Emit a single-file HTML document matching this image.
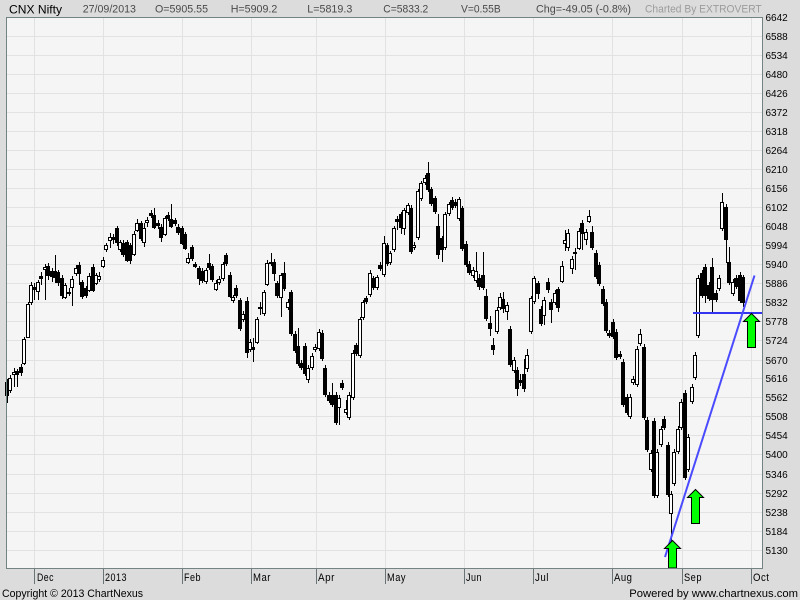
<!DOCTYPE html>
<html><head><meta charset="utf-8"><style>html,body{margin:0;padding:0;background:#dcdcdc}svg{display:block}</style></head>
<body>
<svg xmlns="http://www.w3.org/2000/svg" width="800" height="600" viewBox="0 0 800 600" font-family="'Liberation Sans', Arial, sans-serif">
<rect x="0" y="0" width="800" height="600" fill="#dcdcdc"/>
<rect x="6.5" y="17.5" width="756" height="551" fill="#f5f5f5"/>
<g stroke="#e2e2e2" stroke-width="1" shape-rendering="crispEdges">
<path d="M7 36.5H762M7 55.5H762M7 74.5H762M7 93.5H762M7 112.5H762M7 131.5H762M7 150.5H762M7 169.5H762M7 188.5H762M7 207.5H762M7 226.5H762M7 245.5H762M7 264.5H762M7 283.5H762M7 302.5H762M7 321.5H762M7 340.5H762M7 360.5H762M7 378.5H762M7 397.5H762M7 416.5H762M7 435.5H762M7 454.5H762M7 474.5H762M7 493.5H762M7 512.5H762M7 531.5H762M7 550.5H762"/>
<path d="M34.5 18V568M103.5 18V568M182.5 18V568M251.5 18V568M316.5 18V568M385.5 18V568M464.5 18V568M533.5 18V568M612.5 18V568M682.5 18V568M751.5 18V568"/>
</g>
<g shape-rendering="crispEdges" stroke="#000" stroke-width="1">
<path fill="none" d="M7.5 379V403M10.5 375V393M14.5 368V387M17.5 369V387M21.5 364V376M24.5 337V365M28.5 302V338M31.5 282V305M34.5 283V300M38.5 280V300M41.5 272V285M45.5 264V300M48.5 263V280M52.5 268V282M55.5 255V283M58.5 270V286M62.5 275V299M65.5 283V299M69.5 288V296M72.5 276V306M76.5 265V276M79.5 262V285M82.5 280V299M86.5 286V298M89.5 273V292M93.5 264V292M96.5 273V285M99.5 272V282M103.5 257V268M106.5 243V252M110.5 233V248M113.5 234V244M117.5 226V246M120.5 240V252M123.5 240V257M127.5 240V262M130.5 243V264M134.5 231V256M137.5 219V232M141.5 221V241M144.5 223V247M147.5 217V227M151.5 210V218M154.5 208V229M158.5 220V229M161.5 224V242M165.5 216V236M168.5 212V221M171.5 204V228M175.5 218V226M178.5 224V235M182.5 226V245M185.5 232V250M188.5 253V264M192.5 245V261M195.5 262V268M199.5 266V285M202.5 268V283M206.5 268V284M209.5 254V270M212.5 264V282M216.5 280V291M219.5 276V285M223.5 262V281M226.5 253V266M230.5 272V298M233.5 295V303M236.5 285V298M240.5 298V331M243.5 311V322M247.5 297V358M250.5 339V352M253.5 338V362M257.5 317V344M260.5 302V315M264.5 290V316M267.5 260V286M271.5 253V266M274.5 259V281M277.5 281V298M281.5 273V317M284.5 262V291M288.5 299V310M291.5 290V336M295.5 331V353M298.5 328V366M301.5 360V370M305.5 343V376M308.5 365V383M312.5 353V370M315.5 344V352M319.5 329V351M322.5 330V361M325.5 365V397M329.5 392V403M332.5 383V407M336.5 392V425M339.5 395V425M342.5 380V390M346.5 400V415M349.5 392V420M353.5 350V400M356.5 343V356M360.5 317V358M363.5 300V320M366.5 296V304M370.5 270V297M373.5 276V290M377.5 275V290M380.5 262V271M384.5 236V277M387.5 243V266M390.5 251V265M394.5 226V252M397.5 216V230M401.5 212V234M404.5 208V235M408.5 203V215M411.5 205V254M414.5 242V250M418.5 189V240M421.5 181V201M425.5 175V185M428.5 162V192M431.5 187V206M435.5 196V214M438.5 214V259M442.5 236V262M445.5 212V250M449.5 202V216M452.5 197V210M455.5 199V208M459.5 197V221M462.5 206V251M466.5 241V267M469.5 261V275M473.5 267V278M476.5 252V283M479.5 274V290M483.5 252V290M486.5 289V321M490.5 316V336M493.5 338V355M497.5 307V334M500.5 293V310M503.5 292V313M507.5 302V320M510.5 326V367M514.5 357V373M517.5 367V396M520.5 374V386M524.5 359V392M527.5 349V372M531.5 296V334M534.5 276V304M538.5 281V299M541.5 306V326M544.5 297V325M548.5 278V293M551.5 299V323M555.5 290V305M558.5 287V312M562.5 261V283M565.5 230V251M568.5 229V251M572.5 256V274M575.5 248V270M579.5 228V250M582.5 220V250M586.5 229V245M589.5 210V223M592.5 226V250M596.5 250V279M599.5 262V286M603.5 286V306M606.5 299V333M609.5 330V338M613.5 319V339M616.5 329V360M620.5 351V359M623.5 359V407M627.5 394V415M630.5 394V419M633.5 376V385M637.5 346V387M640.5 329V346M644.5 344V420M647.5 417V452M651.5 450V472M654.5 418V498M657.5 449V498M661.5 426V447M664.5 416V430M668.5 442V497M671.5 491V545M674.5 449V486M678.5 426V454M681.5 399V430M685.5 390V480M688.5 434V472M692.5 384V404M695.5 352V380M698.5 275V338M702.5 270V298M705.5 264V303M709.5 282V301M712.5 258V313M716.5 290V302M719.5 275V291M722.5 193V231M726.5 204V263M729.5 247V285M733.5 279V296M736.5 275V289M740.5 272V303M743.5 275V307"/>
<path fill="#000" d="M5.5 382.5h3v13h-3zM15.5 371.5h3v3h-3zM19.5 367.5h3v5h-3zM32.5 287.5h3v2h-3zM39.5 276.5h3v2h-3zM46.5 266.5h3v9h-3zM50.5 271.5h3v5h-3zM53.5 271.5h3v6h-3zM56.5 272.5h3v10h-3zM60.5 278.5h3v17h-3zM67.5 292.5h3v1h-3zM77.5 265.5h3v8h-3zM80.5 282.5h3v14h-3zM84.5 288.5h3v7h-3zM91.5 267.5h3v23h-3zM111.5 237.5h3v2h-3zM115.5 228.5h3v14h-3zM121.5 243.5h3v11h-3zM125.5 242.5h3v18h-3zM128.5 245.5h3v15h-3zM139.5 223.5h3v15h-3zM149.5 213.5h3v2h-3zM152.5 215.5h3v12h-3zM156.5 223.5h3v2h-3zM159.5 227.5h3v10h-3zM166.5 215.5h3v3h-3zM169.5 219.5h3v7h-3zM173.5 220.5h3v3h-3zM176.5 227.5h3v5h-3zM180.5 228.5h3v15h-3zM183.5 234.5h3v14h-3zM190.5 247.5h3v11h-3zM193.5 264.5h3v2h-3zM197.5 268.5h3v10h-3zM200.5 271.5h3v9h-3zM207.5 263.5h3v4h-3zM210.5 266.5h3v13h-3zM224.5 255.5h3v8h-3zM228.5 275.5h3v21h-3zM234.5 288.5h3v7h-3zM238.5 300.5h3v28h-3zM245.5 301.5h3v51h-3zM251.5 347.5h3v2h-3zM258.5 307.5h3v1h-3zM269.5 262.5h3v1h-3zM272.5 262.5h3v11h-3zM275.5 283.5h3v12h-3zM282.5 273.5h3v15h-3zM289.5 292.5h3v41h-3zM293.5 334.5h3v16h-3zM296.5 346.5h3v17h-3zM299.5 363.5h3v4h-3zM303.5 346.5h3v27h-3zM320.5 333.5h3v25h-3zM323.5 368.5h3v26h-3zM327.5 395.5h3v5h-3zM330.5 395.5h3v9h-3zM334.5 395.5h3v27h-3zM340.5 383.5h3v4h-3zM354.5 345.5h3v8h-3zM364.5 298.5h3v3h-3zM371.5 278.5h3v9h-3zM378.5 265.5h3v3h-3zM385.5 245.5h3v18h-3zM395.5 219.5h3v2h-3zM399.5 214.5h3v13h-3zM409.5 208.5h3v43h-3zM426.5 173.5h3v16h-3zM429.5 189.5h3v14h-3zM433.5 198.5h3v13h-3zM436.5 226.5h3v28h-3zM440.5 238.5h3v11h-3zM450.5 200.5h3v7h-3zM453.5 202.5h3v3h-3zM460.5 208.5h3v40h-3zM464.5 244.5h3v20h-3zM467.5 264.5h3v8h-3zM477.5 278.5h3v8h-3zM481.5 275.5h3v12h-3zM484.5 296.5h3v22h-3zM488.5 323.5h3v5h-3zM491.5 345.5h3v4h-3zM501.5 299.5h3v9h-3zM508.5 329.5h3v35h-3zM515.5 370.5h3v18h-3zM518.5 380.5h3v2h-3zM522.5 374.5h3v14h-3zM536.5 283.5h3v10h-3zM539.5 309.5h3v14h-3zM546.5 282.5h3v7h-3zM549.5 302.5h3v7h-3zM556.5 289.5h3v18h-3zM573.5 252.5h3v1h-3zM580.5 223.5h3v10h-3zM590.5 232.5h3v15h-3zM594.5 253.5h3v23h-3zM597.5 265.5h3v18h-3zM601.5 289.5h3v14h-3zM604.5 302.5h3v28h-3zM607.5 333.5h3v2h-3zM611.5 322.5h3v14h-3zM614.5 332.5h3v25h-3zM618.5 354.5h3v2h-3zM621.5 362.5h3v42h-3zM625.5 397.5h3v15h-3zM642.5 347.5h3v70h-3zM645.5 420.5h3v29h-3zM652.5 421.5h3v74h-3zM662.5 419.5h3v8h-3zM666.5 445.5h3v49h-3zM683.5 393.5h3v84h-3zM700.5 273.5h3v22h-3zM703.5 267.5h3v28h-3zM707.5 285.5h3v13h-3zM710.5 267.5h3v32h-3zM714.5 293.5h3v6h-3zM724.5 207.5h3v32h-3zM727.5 262.5h3v20h-3zM734.5 278.5h3v8h-3zM738.5 275.5h3v25h-3zM741.5 277.5h3v25h-3z"/>
<path fill="#fff" d="M8.5 378.5h3v12h-3zM12.5 372.5h3v2h-3zM22.5 339.5h3v24h-3zM26.5 304.5h3v33h-3zM29.5 285.5h3v17h-3zM36.5 282.5h3v9h-3zM43.5 267.5h3v2h-3zM63.5 285.5h3v12h-3zM70.5 279.5h3v8h-3zM74.5 268.5h3v5h-3zM87.5 276.5h3v14h-3zM94.5 275.5h3v8h-3zM97.5 276.5h3v3h-3zM101.5 260.5h3v6h-3zM104.5 245.5h3v4h-3zM108.5 237.5h3v3h-3zM118.5 242.5h3v7h-3zM132.5 234.5h3v20h-3zM135.5 223.5h3v7h-3zM142.5 228.5h3v14h-3zM145.5 220.5h3v2h-3zM163.5 218.5h3v16h-3zM186.5 258.5h3v4h-3zM204.5 270.5h3v11h-3zM214.5 283.5h3v6h-3zM217.5 279.5h3v3h-3zM221.5 264.5h3v14h-3zM231.5 297.5h3v3h-3zM241.5 314.5h3v5h-3zM248.5 342.5h3v7h-3zM255.5 319.5h3v23h-3zM262.5 292.5h3v21h-3zM265.5 263.5h3v21h-3zM279.5 275.5h3v22h-3zM286.5 302.5h3v5h-3zM306.5 368.5h3v11h-3zM310.5 356.5h3v11h-3zM313.5 347.5h3v2h-3zM317.5 332.5h3v16h-3zM337.5 398.5h3v9h-3zM344.5 409.5h3v3h-3zM347.5 395.5h3v22h-3zM351.5 353.5h3v44h-3zM358.5 319.5h3v36h-3zM361.5 302.5h3v15h-3zM368.5 273.5h3v21h-3zM375.5 277.5h3v10h-3zM382.5 243.5h3v31h-3zM388.5 253.5h3v9h-3zM392.5 228.5h3v21h-3zM402.5 210.5h3v18h-3zM406.5 205.5h3v7h-3zM412.5 245.5h3v2h-3zM416.5 191.5h3v46h-3zM419.5 183.5h3v15h-3zM423.5 178.5h3v4h-3zM443.5 214.5h3v33h-3zM447.5 204.5h3v9h-3zM457.5 199.5h3v19h-3zM471.5 270.5h3v5h-3zM474.5 271.5h3v9h-3zM495.5 310.5h3v21h-3zM498.5 297.5h3v10h-3zM505.5 305.5h3v6h-3zM512.5 360.5h3v10h-3zM525.5 355.5h3v13h-3zM529.5 298.5h3v33h-3zM532.5 278.5h3v23h-3zM542.5 300.5h3v15h-3zM553.5 293.5h3v9h-3zM560.5 266.5h3v15h-3zM563.5 240.5h3v3h-3zM566.5 233.5h3v14h-3zM570.5 259.5h3v9h-3zM577.5 231.5h3v17h-3zM584.5 232.5h3v7h-3zM587.5 216.5h3v5h-3zM628.5 397.5h3v19h-3zM631.5 379.5h3v3h-3zM635.5 349.5h3v35h-3zM638.5 334.5h3v9h-3zM649.5 453.5h3v16h-3zM655.5 452.5h3v43h-3zM659.5 429.5h3v15h-3zM669.5 494.5h3v19h-3zM672.5 452.5h3v31h-3zM676.5 429.5h3v22h-3zM679.5 402.5h3v25h-3zM686.5 437.5h3v32h-3zM690.5 387.5h3v14h-3zM693.5 355.5h3v22h-3zM696.5 278.5h3v57h-3zM717.5 278.5h3v10h-3zM720.5 202.5h3v26h-3zM731.5 282.5h3v11h-3z"/>
</g>
<line x1="693" y1="313" x2="762" y2="313" stroke="#3333f0" stroke-width="2" shape-rendering="crispEdges"/>
<line x1="665" y1="557" x2="754.5" y2="275.5" stroke="#4a4aff" stroke-width="2"/>
<g fill="#00ff00" stroke="#000" stroke-width="1">
<polygon points="672.5,540.5 680.5,548.5 676.5,548.5 676.5,568 668.5,568 668.5,548.5 664.5,548.5"/>
<polygon points="695.5,489.5 703.5,497.5 699.5,497.5 699.5,523.5 691.5,523.5 691.5,497.5 687.5,497.5"/>
<polygon points="751.5,313.5 759.5,321.5 755.5,321.5 755.5,347.5 747.5,347.5 747.5,321.5 743.5,321.5"/>
</g>
<rect x="6.5" y="17.5" width="756" height="551" fill="none" stroke="#738282" stroke-width="1" shape-rendering="crispEdges"/>
<g stroke="#6a7474" stroke-width="1" shape-rendering="crispEdges">
<path d="M34.5 569V584M103.5 569V584M182.5 569V584M251.5 569V584M316.5 569V584M385.5 569V584M464.5 569V584M533.5 569V584M612.5 569V584M682.5 569V584M751.5 569V584"/>
</g>
<g font-size="11" fill="#000" letter-spacing="0.6">
<text x="37" y="581" textLength="17" lengthAdjust="spacingAndGlyphs">Dec</text>
<text x="105" y="581" textLength="22" lengthAdjust="spacingAndGlyphs">2013</text>
<text x="184" y="581" textLength="17" lengthAdjust="spacingAndGlyphs">Feb</text>
<text x="253" y="581" textLength="18" lengthAdjust="spacingAndGlyphs">Mar</text>
<text x="318" y="581" textLength="17" lengthAdjust="spacingAndGlyphs">Apr</text>
<text x="387" y="581" textLength="19" lengthAdjust="spacingAndGlyphs">May</text>
<text x="466" y="581" textLength="16" lengthAdjust="spacingAndGlyphs">Jun</text>
<text x="535" y="581" textLength="14" lengthAdjust="spacingAndGlyphs">Jul</text>
<text x="614" y="581" textLength="18.5" lengthAdjust="spacingAndGlyphs">Aug</text>
<text x="684" y="581" textLength="18" lengthAdjust="spacingAndGlyphs">Sep</text>
<text x="753" y="581" textLength="16.5" lengthAdjust="spacingAndGlyphs">Oct</text>
</g>
<g font-size="10" fill="#000">
<text x="765.5" y="21">6642</text>
<text x="765.5" y="40">6588</text>
<text x="765.5" y="59">6534</text>
<text x="765.5" y="78">6480</text>
<text x="765.5" y="97">6426</text>
<text x="765.5" y="116">6372</text>
<text x="765.5" y="135">6318</text>
<text x="765.5" y="154">6264</text>
<text x="765.5" y="173">6210</text>
<text x="765.5" y="192">6156</text>
<text x="765.5" y="211">6102</text>
<text x="765.5" y="230">6048</text>
<text x="765.5" y="249">5994</text>
<text x="765.5" y="268">5940</text>
<text x="765.5" y="287">5886</text>
<text x="765.5" y="306">5832</text>
<text x="765.5" y="325">5778</text>
<text x="765.5" y="344">5724</text>
<text x="765.5" y="364">5670</text>
<text x="765.5" y="382">5616</text>
<text x="765.5" y="401">5562</text>
<text x="765.5" y="420">5508</text>
<text x="765.5" y="439">5454</text>
<text x="765.5" y="458">5400</text>
<text x="765.5" y="478">5346</text>
<text x="765.5" y="497">5292</text>
<text x="765.5" y="516">5238</text>
<text x="765.5" y="535">5184</text>
<text x="765.5" y="554">5130</text>
</g>
<text x="9" y="13.3" font-size="12" fill="#000" textLength="53" lengthAdjust="spacingAndGlyphs">CNX Nifty</text>
<g font-size="11" fill="#4a4a4a">
<text x="82.7" y="12.3" textLength="53.3" lengthAdjust="spacingAndGlyphs">27/09/2013</text>
<text x="155" y="12.3" textLength="53" lengthAdjust="spacingAndGlyphs">O=5905.55</text>
<text x="230.7" y="12.3" textLength="46.6" lengthAdjust="spacingAndGlyphs">H=5909.2</text>
<text x="307.3" y="12.3" textLength="45" lengthAdjust="spacingAndGlyphs">L=5819.3</text>
<text x="383.3" y="12.3" textLength="45" lengthAdjust="spacingAndGlyphs">C=5833.2</text>
<text x="461" y="12.3" textLength="39.7" lengthAdjust="spacingAndGlyphs">V=0.55B</text>
<text x="536" y="12.3" textLength="95" lengthAdjust="spacingAndGlyphs">Chg=-49.05 (-0.8%)</text>
</g>
<text x="645" y="12.3" font-size="11" fill="#9c9c9c" textLength="116.7" lengthAdjust="spacingAndGlyphs">Charted By EXTROVERT</text>
<text x="2" y="597" font-size="11" fill="#000" textLength="141" lengthAdjust="spacingAndGlyphs">Copyright © 2013 ChartNexus</text>
<text x="629.3" y="597" font-size="11" fill="#000" textLength="168.7" lengthAdjust="spacingAndGlyphs">Powered by www.chartnexus.com</text>
</svg>
</body></html>
